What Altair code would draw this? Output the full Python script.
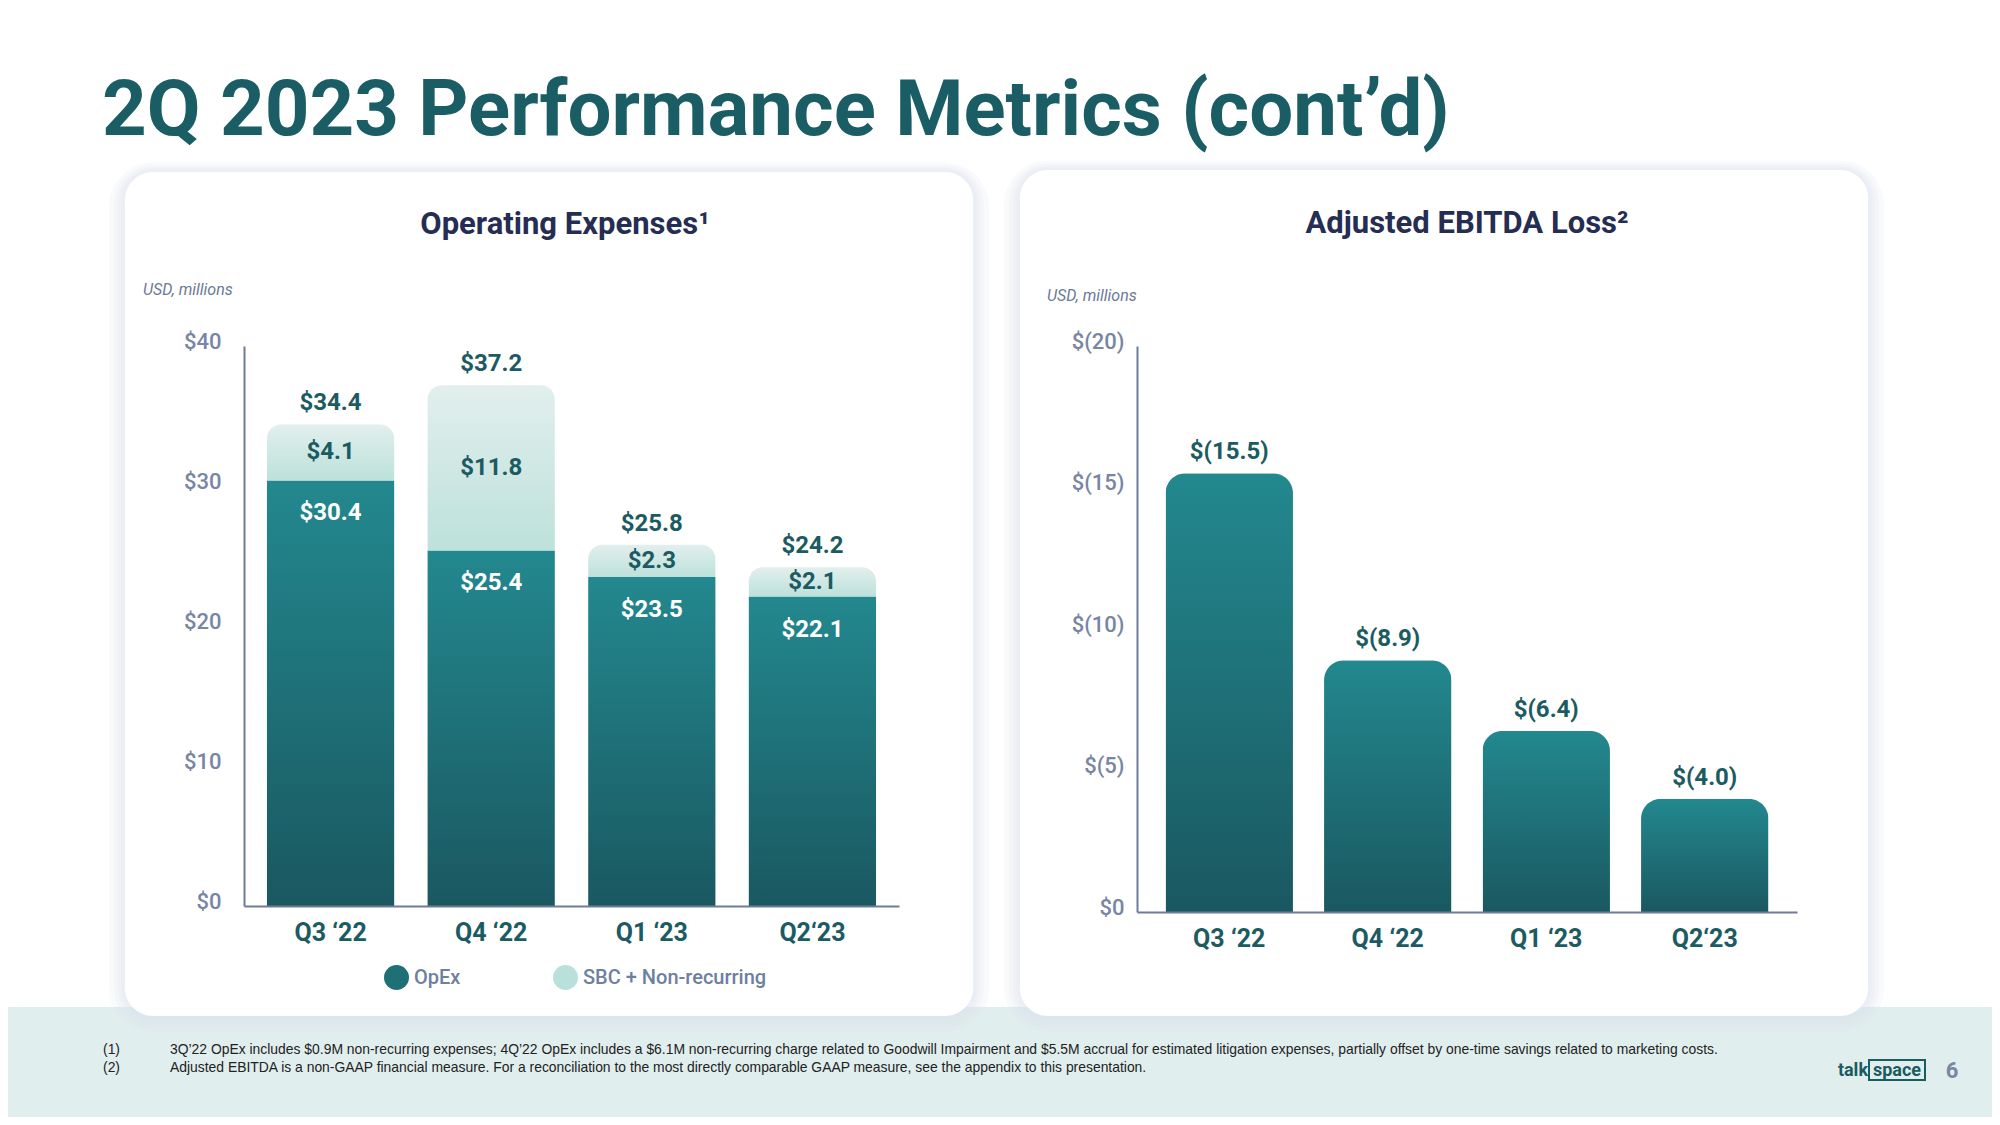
import altair as alt
import pandas as pd

# ---------------- data ----------------
quarters = ["Q3 ‘22", "Q4 ‘22", "Q1 ‘23", "Q2‘23"]
opex = [30.4, 25.4, 23.5, 22.1]
sbc = [4.1, 11.8, 2.3, 2.1]
opex_total = [34.4, 37.2, 25.8, 24.2]
ebitda = [-15.5, -8.9, -6.4, -4.0]
series = ["OpEx", "SBC + Non-recurring"]
opex_ticks = [0, 10, 20, 30, 40]
ebitda_ticks = [0, 5, 10, 15, 20]

page_title = "2Q 2023 Performance Metrics (cont’d)"
title_left = "Operating Expenses¹"
title_right = "Adjusted EBITDA Loss²"
unit_text = "USD, millions"
footnote_1 = ("3Q’22 OpEx includes $0.9M non-recurring expenses; 4Q’22 OpEx includes a $6.1M non-recurring "
              "charge related to Goodwill Impairment and $5.5M accrual for estimated litigation expenses, "
              "partially offset by one-time savings related to marketing costs.")
footnote_2 = ("Adjusted EBITDA is a non-GAAP financial measure. For a reconciliation to the most directly "
              "comparable GAAP measure, see the appendix to this presentation.")

# ---------------- styles ----------------
TITLE_C = "#1a5d64"
NAVY = "#252d52"
TEAL_TXT = "#1b5b61"
AXIS_LBL = "#7886a4"
AXIS_LINE = "#6f7c99"
UNIT_C = "#6b7a96"
BAND_C = "#e1eeee"
SHADOW_C = "#d9deeb"
DARK_SOLID = "#1f6f77"
LIGHT_SOLID = "#b9e0db"

grad_dark = alt.LinearGradient(
    gradient="linear", x1=0, x2=0, y1=0, y2=1,
    stops=[alt.GradientStop(color="#23888f", offset=0), alt.GradientStop(color="#1a5860", offset=1)],
)
grad_light = alt.LinearGradient(
    gradient="linear", x1=0, x2=0, y1=0, y2=1,
    stops=[alt.GradientStop(color="#e2efed", offset=0), alt.GradientStop(color="#bde1db", offset=1)],
)

one = pd.DataFrame({"k": [0]})
base = alt.Chart(one)


def box(ox, oy, x1, y1, x2, y2, **kw):
    return base.mark_rect(**kw).encode(
        x=alt.value(x1 - ox), x2=alt.value(x2 - ox), y=alt.value(y1 - oy), y2=alt.value(y2 - oy)
    )


def label(ox, oy, x, y, text, **kw):
    return base.mark_text(text=text, **kw).encode(x=alt.value(x - ox), y=alt.value(y - oy))


def card(ox, oy, x1, y1, x2, y2):
    layers = []
    for e in [16, 11, 7, 4]:
        layers.append(box(ox, oy, x1 - e, y1 - e * 0.6, x2 + e, y2 + e, fill=SHADOW_C, opacity=0.16,
                          cornerRadius=28 + e))
    layers.append(box(ox, oy, x1, y1, x2, y2, fill="white", cornerRadius=28))
    return layers


x_axis_kw = dict(title=None, labelAngle=0, zindex=2, domainColor=AXIS_LINE, domainWidth=2, ticks=False,
                 grid=False, labelFont="Roboto", labelFontSize=25, labelFontWeight="bold",
                 labelColor=TEAL_TXT, labelPadding=14)
y_axis_kw = dict(title=None, zindex=2, domainColor=AXIS_LINE, domainWidth=2, ticks=False, grid=False,
                 labelFont="Roboto", labelFontSize=22, labelFontWeight=500, labelColor=AXIS_LBL,
                 labelOffset=-5)

# ---------------- panel 1 : Operating Expenses ----------------
O1X, O1Y = 244, 346
W1, H1 = 655, 560

df1 = pd.DataFrame({"quarter": quarters, "opex": opex, "sbc": sbc, "total": opex_total})

xax = alt.Axis(**x_axis_kw)
X1 = alt.X("quarter:N", sort=quarters, scale=alt.Scale(paddingInner=0.208, paddingOuter=0.143), axis=xax)
ys1 = alt.Scale(domain=[0, 40], nice=False)
yax1 = alt.Axis(values=opex_ticks, labelExpr="'$' + datum.value", labelPadding=23, **y_axis_kw)

FN = dict(font="Liberation Sans", fontSize=13.9, color="#222222", align="left", baseline="middle")

deco1 = [
    box(O1X, O1Y, 8, 8, 1992, 1117, fill="white"),
    box(O1X, O1Y, 8, 1007, 1992, 1117, fill=BAND_C),
]
deco1 += card(O1X, O1Y, 125, 172, 973, 1016)
deco1 += [
    label(O1X, O1Y, 102, 135, page_title, font="Roboto", fontWeight="bold", fontSize=78,
          color=TITLE_C, align="left", baseline="alphabetic"),
    label(O1X, O1Y, 565, 234, title_left, font="Roboto", fontWeight="bold", fontSize=31,
          color=NAVY, align="center", baseline="alphabetic"),
    label(O1X, O1Y, 143, 290, unit_text, font="Roboto", fontStyle="italic", fontSize=16,
          color=UNIT_C, align="left", baseline="middle"),
    label(O1X, O1Y, 103, 1050, "(1)", **FN),
    label(O1X, O1Y, 103, 1068, "(2)", **FN),
    label(O1X, O1Y, 170, 1050, footnote_1, **FN),
    label(O1X, O1Y, 170, 1068, footnote_2, **FN),
    label(O1X, O1Y, 1868, 1071, "talk", font="Roboto", fontWeight="bold", fontSize=18,
          color=TEAL_TXT, align="right", baseline="middle"),
    box(O1X, O1Y, 1869, 1060, 1925, 1080, fill="white", fillOpacity=0, stroke=TEAL_TXT, strokeWidth=2),
    label(O1X, O1Y, 1897, 1071, "space", font="Roboto", fontWeight="bold", fontSize=18,
          color=TEAL_TXT, align="center", baseline="middle"),
    label(O1X, O1Y, 1952, 1071, "6", font="Roboto", fontWeight="bold", fontSize=22,
          color=AXIS_LBL, align="center", baseline="middle"),
]

dark1 = alt.Chart(df1).mark_bar(color=grad_dark).encode(
    x=X1, y=alt.Y("opex:Q", scale=ys1, axis=yax1)
)
light1 = alt.Chart(df1).mark_bar(color=grad_light, cornerRadiusTopLeft=14, cornerRadiusTopRight=14).encode(
    x=X1, y=alt.Y("opex:Q", scale=ys1, axis=yax1), y2="total:Q"
)
txt_kw = dict(font="Roboto", fontWeight="bold", fontSize=24, baseline="middle", align="center")
tot1 = alt.Chart(df1).transform_calculate(t="'$' + format(datum.total, '.1f')").mark_text(
    color=TEAL_TXT, dy=-21, **txt_kw
).encode(x=X1, y=alt.Y("total:Q", scale=ys1, axis=yax1), text="t:N")
mid1 = alt.Chart(df1).transform_calculate(
    mid="(datum.opex + datum.total) / 2", t="'$' + format(datum.sbc, '.1f')"
).mark_text(color=TEAL_TXT, **txt_kw).encode(
    x=X1, y=alt.Y("mid:Q", scale=ys1, axis=yax1), text="t:N"
)
in1 = alt.Chart(df1).transform_calculate(t="'$' + format(datum.opex, '.1f')").mark_text(
    color="white", dy=33, **txt_kw
).encode(x=X1, y=alt.Y("opex:Q", scale=ys1, axis=yax1), text="t:N")

legend_layer = alt.Chart(pd.DataFrame({"series": series})).mark_point(filled=True, opacity=0, size=1).encode(
    color=alt.Color(
        "series:N",
        scale=alt.Scale(domain=series, range=[DARK_SOLID, LIGHT_SOLID]),
        legend=alt.Legend(
            title=None, orient="none", legendX=140, legendY=619, direction="horizontal",
            symbolType="circle", symbolSize=625, symbolOpacity=1, symbolStrokeWidth=0,
            labelFont="Roboto", labelFontSize=20, labelFontWeight=500, labelColor="#6e7fa0",
            labelOffset=5, columnPadding=92, padding=0, labelLimit=400,
        ),
    )
)

panel1 = alt.layer(*deco1, dark1, light1, tot1, mid1, in1, legend_layer).properties(width=W1, height=H1)

# ---------------- panel 2 : Adjusted EBITDA Loss ----------------
O2X, O2Y = 1137, 346
W2, H2 = 660, 566

df2 = pd.DataFrame({"quarter": quarters, "ebitda": ebitda})

X2 = alt.X("quarter:N", sort=quarters, scale=alt.Scale(paddingInner=0.196, paddingOuter=0.18), axis=xax)
ys2 = alt.Scale(domain=[0, 20], nice=False)
yax2 = alt.Axis(values=ebitda_ticks,
                labelExpr="datum.value == 0 ? '$0' : '$(' + datum.value + ')'", labelPadding=13,
                **y_axis_kw)

deco2 = card(O2X, O2Y, 1020, 170, 1868, 1016)
deco2 += [
    label(O2X, O2Y, 1467, 233, title_right, font="Roboto", fontWeight="bold", fontSize=31,
          color=NAVY, align="center", baseline="alphabetic"),
    label(O2X, O2Y, 1047, 296, unit_text, font="Roboto", fontStyle="italic", fontSize=16,
          color=UNIT_C, align="left", baseline="middle"),
]

bars2 = alt.Chart(df2).transform_calculate(loss="abs(datum.ebitda)").mark_bar(
    color=grad_dark, cornerRadiusTopLeft=20, cornerRadiusTopRight=20
).encode(x=X2, y=alt.Y("loss:Q", scale=ys2, axis=yax2))
lbl2 = alt.Chart(df2).transform_calculate(
    loss="abs(datum.ebitda)", t="'$(' + format(abs(datum.ebitda), '.1f') + ')'"
).mark_text(color=TEAL_TXT, dy=-21, **txt_kw).encode(
    x=X2, y=alt.Y("loss:Q", scale=ys2, axis=yax2), text="t:N"
)

panel2 = alt.layer(*deco2, bars2, lbl2).properties(width=W2, height=H2)

# ---------------- assemble ----------------
chart = (
    alt.hconcat(panel1, panel2, spacing=238, bounds="flush")
    .properties(padding=0, background="white")
    .configure_view(stroke=None)
)

chart.save("out.html", embed_options={"renderer": "svg", "actions": False})
